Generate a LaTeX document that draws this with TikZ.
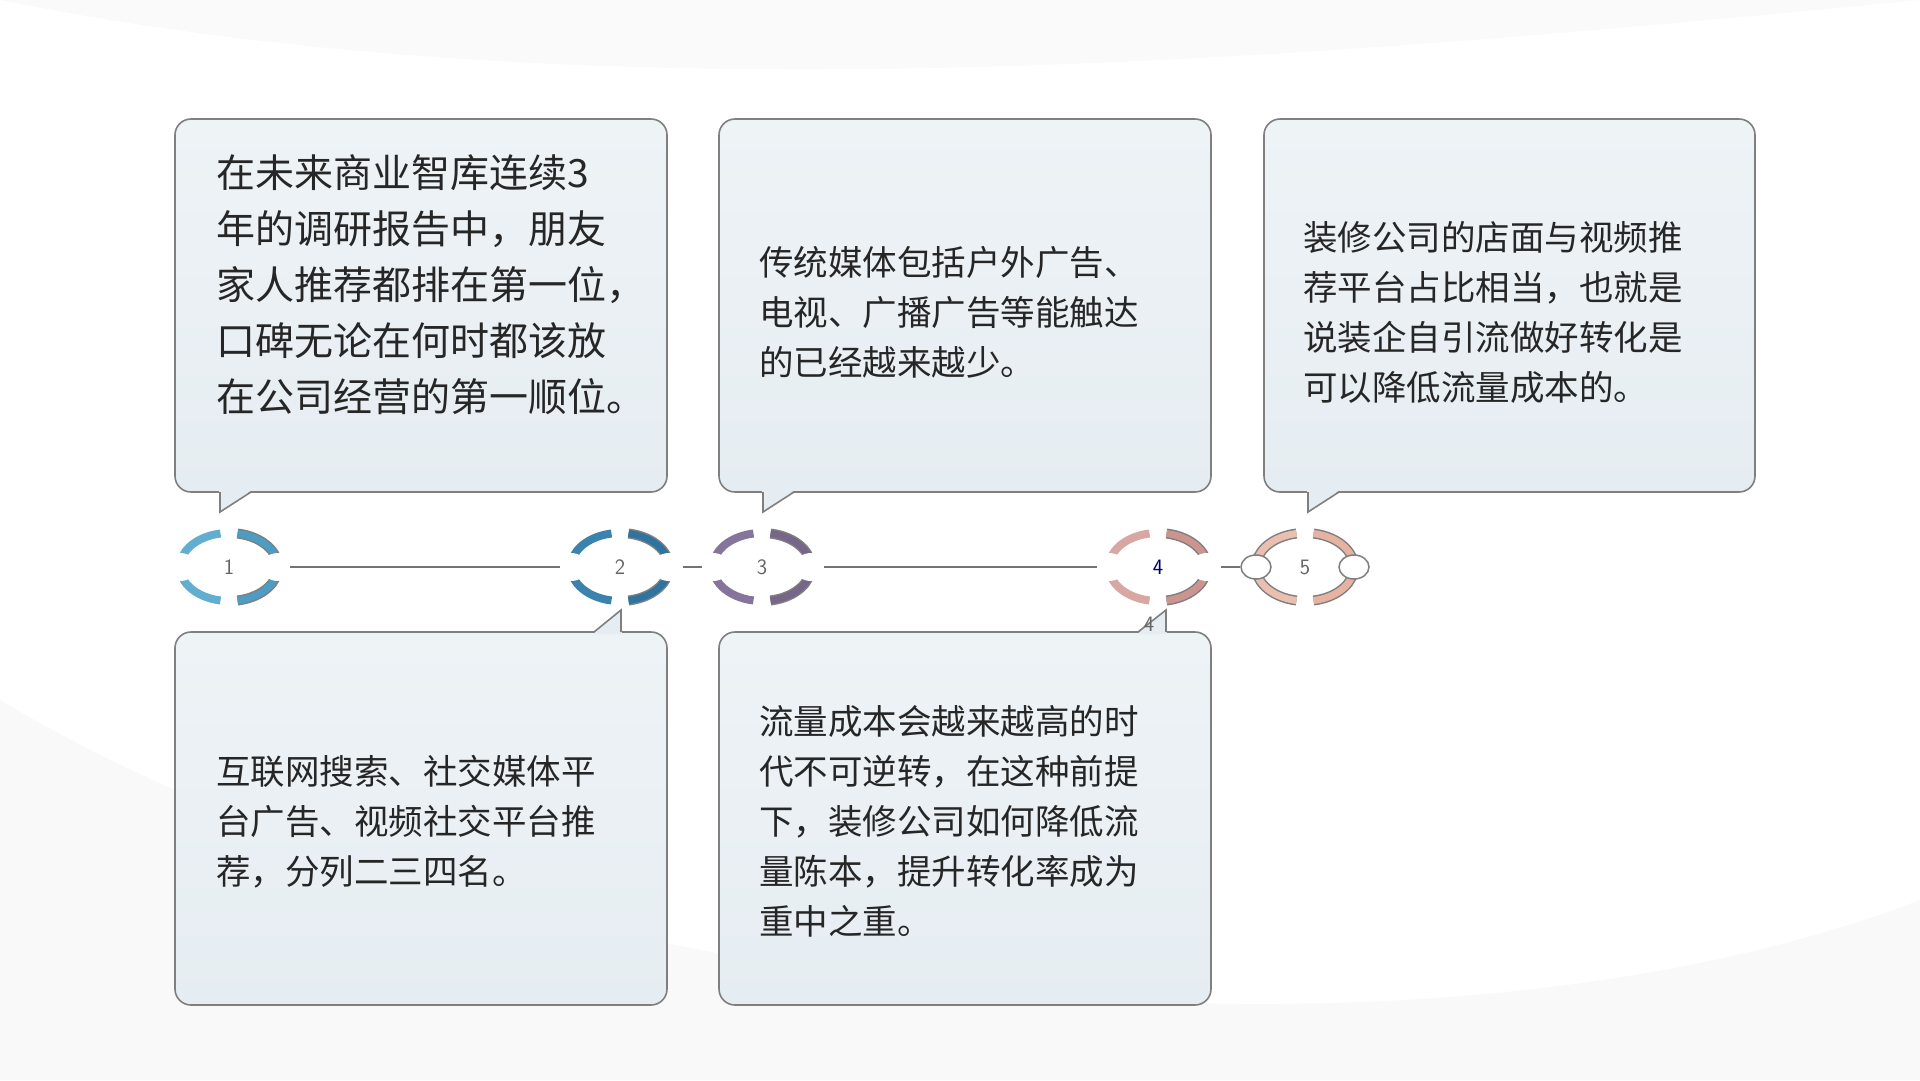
\documentclass[tikz,border=0pt]{standalone}
\usepackage{fontspec}
\newfontfamily\cjk{Noto Sans CJK SC}
\usetikzlibrary{calc,shapes.geometric}
\definecolor{bord}{HTML}{7F7F7F}
\definecolor{boxf}{HTML}{E6EDF2}
\definecolor{boxg}{HTML}{EEF3F6}
\definecolor{txt}{HTML}{262626}
\definecolor{cA}{HTML}{62AED0}\definecolor{cAd}{HTML}{4C9CC4}
\definecolor{cB}{HTML}{3C82AE}\definecolor{cBd}{HTML}{2F74A0}
\definecolor{cC}{HTML}{85759A}\definecolor{cCd}{HTML}{77668A}
\definecolor{cD}{HTML}{D9A7A2}\definecolor{cDd}{HTML}{CC948E}
\definecolor{cE}{HTML}{EBBFB0}\definecolor{cEd}{HTML}{E6B3A3}
\tikzset{
  bubble/.style={draw=bord,line width=1.6pt,rounded corners=16pt,top color=boxg,bottom color=boxf},
  tail/.style={fill=boxf,draw=none},
  tailline/.style={draw=bord,line width=1.6pt},
  bigtxt/.style={font=\cjk\fontsize{39}{56}\selectfont,text=txt,align=left,anchor=west,inner sep=0pt},
  smtxt/.style={font=\cjk\fontsize{34.5}{50}\selectfont,text=txt,align=left,anchor=west,inner sep=0pt},
  num/.style={font=\sffamily\fontsize{22}{22}\selectfont,text=black!60},
  conn/.style={draw=black!55,line width=2pt},
  endcap/.style={draw=bord,fill=white,line width=1.5pt,ellipse,minimum width=30pt,minimum height=24pt,inner sep=0pt},
}
\newcommand{\ring}[4]{% name, x, light, dark
  \coordinate (#1) at (#2,567);
  \draw[#3,line width=8pt] ($(#1)+(100:49 and 34)$) arc[start angle=100,end angle=260,x radius=49,y radius=34];
  \draw[bord,line width=10pt] ($(#1)+(-80:49 and 34)$) arc[start angle=-80,end angle=80,x radius=49,y radius=34];
  \draw[#4,line width=7pt] ($(#1)+(-80:49 and 34)$) arc[start angle=-80,end angle=80,x radius=49,y radius=34];
}
\begin{document}
\begin{tikzpicture}[x=1pt,y=-1pt]
\useasboundingbox (0,0) rectangle (1920,1080);
\fill[white] (0,0) rectangle (1920,1080);
\fill[black!2.5] (0,700) .. controls (500,1000) and (1400,1100) .. (1920,900) -- (1920,1080) -- (0,1080) -- cycle;
\fill[black!2] (0,0) .. controls (600,120) and (1300,60) .. (1920,0) -- cycle;
% boxes
\path[bubble] (175,119) rectangle (667,492);
\path[bubble] (719,119) rectangle (1211,492);
\path[bubble] (1264,119) rectangle (1755,492);
\path[bubble] (175,632) rectangle (667,1005);
\path[bubble] (719,632) rectangle (1211,1005);
% tails
\fill[tail] (219,490) -- (220,512) -- (252,490) -- cycle; \draw[tailline] (220,492) -- (220,512) -- (251,492);
\fill[tail] (762,490) -- (763,512) -- (795,490) -- cycle; \draw[tailline] (763,492) -- (763,512) -- (794,492);
\fill[tail] (1307,490) -- (1308,512) -- (1340,490) -- cycle; \draw[tailline] (1308,492) -- (1308,512) -- (1339,492);
\fill[tail] (593,634) -- (621,610) -- (622,634) -- cycle; \draw[tailline] (594,632) -- (621,610) -- (621,632);
\fill[tail] (1137,634) -- (1166,610) -- (1167,634) -- cycle; \draw[tailline] (1138,632) -- (1166,610) -- (1166,632);
% texts
\node[bigtxt] (t1) at (216,285) {在未来商业智库连续3\\年的调研报告中，朋友\\家人推荐都排在第一位，\\口碑无论在何时都该放\\在公司经营的第一顺位。};
\node[smtxt] (t2) at (759,312) {传统媒体包括户外广告、\\电视、广播广告等能触达\\的已经越来越少。};
\node[smtxt] (t3) at (1303,312) {装修公司的店面与视频推\\荐平台占比相当，也就是\\说装企自引流做好转化是\\可以降低流量成本的。};
\node[smtxt] (t4) at (216,822) {互联网搜索、社交媒体平\\台广告、视频社交平台推\\荐，分列二三四名。};
\node[smtxt] (t5) at (759,821) {流量成本会越来越高的时\\代不可逆转，在这种前提\\下，装修公司如何降低流\\量陈本，提升转化率成为\\重中之重。};
% rings
\ring{r1}{229}{cA}{cAd}
\ring{r2}{620}{cB}{cBd}
\ring{r3}{762}{cC}{cCd}
\ring{r4}{1158}{cD}{cDd}
\draw[bord,line width=10pt] ($(1305,567)+(100:49 and 34)$) arc[start angle=100,end angle=260,x radius=49,y radius=34];
\draw[cE,line width=7pt] ($(1305,567)+(100:49 and 34)$) arc[start angle=100,end angle=260,x radius=49,y radius=34];
\draw[bord,line width=10pt] ($(1305,567)+(-80:49 and 34)$) arc[start angle=-80,end angle=80,x radius=49,y radius=34];
\draw[cEd,line width=7pt] ($(1305,567)+(-80:49 and 34)$) arc[start angle=-80,end angle=80,x radius=49,y radius=34];
\coordinate (r5) at (1305,567);
\foreach \r in {r1,r2,r3,r4}{
  \fill[white] ($(\r)+(-49,0)$) ellipse[x radius=17,y radius=14];
  \fill[white] ($(\r)+(49,0)$) ellipse[x radius=17,y radius=14];
}
\node[endcap] (e5l) at (1256,567) {};
\node[endcap] (e5r) at (1354,567) {};
% connectors
\coordinate (a1) at (290,567); \coordinate (b1) at (560,567);
\coordinate (a2) at (683,567); \coordinate (b2) at (702,567);
\coordinate (a3) at (824,567); \coordinate (b3) at (1097,567);
\coordinate (a4) at (1221,567);
\draw[conn] (a1) -- (b1);
\draw[conn] (a2) -- (b2);
\draw[conn] (a3) -- (b3);
\draw[conn] (a4) -- (e5l.west);
% numbers
\node[num] (n1) at (r1) {1};
\node[num] (n2) at (r2) {2};
\node[num] (n3) at (r3) {3};
\node[num,text=black!60!blue] (n4) at (r4) {4};
\node[num] (n5) at (r5) {5};
\node[num] (n4b) at (1149,624) {4};
\end{tikzpicture}
\end{document}
